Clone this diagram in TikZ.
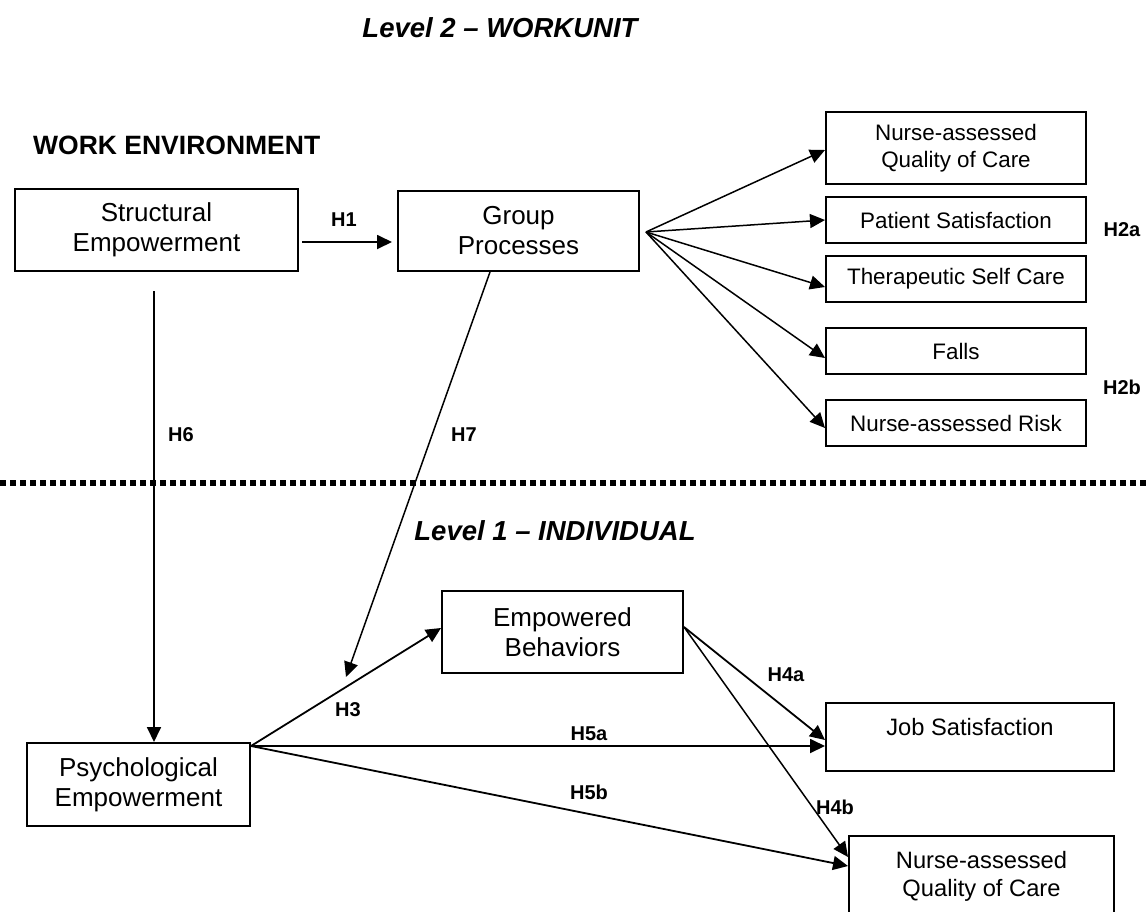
\documentclass[tikz,border=0pt]{standalone}
\usepackage{fontspec}
\setmainfont{Liberation Sans}
\usetikzlibrary{arrows.meta}
\newcommand{\bxAfont}{\fontsize{26}{30}\selectfont}
\newcommand{\bxBfont}{\fontsize{22.4}{27}\selectfont}
\newcommand{\bxCfont}{\fontsize{23.7}{28}\selectfont}
\newcommand{\hfont}{\fontsize{20}{22}\selectfont\bfseries}
\newcommand{\lvfont}{\fontsize{27.5}{30}\selectfont\bfseries\itshape}
\tikzset{
  box/.style={draw, line width=2pt, inner sep=0pt, align=center, font=\bxAfont},
  boxB/.style={box, font=\bxBfont},
  boxC/.style={box, font=\bxCfont},
  arr/.style={-{Triangle[length=15pt,width=14pt]}, line width=1.8pt},
  farr/.style={arr, line width=1.5pt},
  hlab/.style={font=\hfont, inner sep=0pt},
  lvl/.style={font=\lvfont, inner sep=0pt},
}
\begin{document}
\begin{tikzpicture}[x=1pt,y=-1pt]
\useasboundingbox (0,0) rectangle (1146,911);
% titles
\node[lvl] (l2) at (500,28) {Level 2 -- WORKUNIT};
\node[font=\fontsize{26.5}{30}\selectfont\bfseries, inner sep=0pt, anchor=west] (we) at (33,145) {WORK ENVIRONMENT};
\node[lvl] (l1) at (555,531) {Level 1 -- INDIVIDUAL};
% divider
\draw[line width=6pt, dash pattern=on 6pt off 4pt] (0,483) -- (1146,483);
% level 2 boxes
\node[box, minimum width=283pt, minimum height=82pt] (se) at (156.5,230) {Structural\\Empowerment};
\node[box, minimum width=241pt, minimum height=80pt] (gp) at (518.5,231) {Group\\Processes};
\node[boxB, minimum width=260pt, minimum height=72pt] (nqc) at (956,148) {Nurse-assessed\\Quality of Care};
\node[boxB, minimum width=260pt, minimum height=46pt] (ps) at (956,220) {Patient Satisfaction};
\node[boxB, minimum width=260pt, minimum height=46pt] (tsc) at (956,279) {Therapeutic Self Care};
\node[boxB, minimum width=260pt, minimum height=46pt] (fa) at (956,351) {Falls};
\node[boxB, minimum width=260pt, minimum height=46pt] (nr) at (956,423) {Nurse-assessed Risk};
% level 1 boxes
\node[box, minimum width=223pt, minimum height=83pt] (psy) at (138.5,784.5) {Psychological\\Empowerment};
\node[box, minimum width=241pt, minimum height=82pt] (eb) at (562.5,632) {Empowered\\Behaviors};
\node[boxC, minimum width=288pt, minimum height=68pt,
  label={[font=\bxCfont, anchor=center, yshift=-25pt]north:Job Satisfaction}] (js) at (970,737) {};
\node[boxC, minimum width=265pt, minimum height=80pt] (nqc2) at (981.5,876) {Nurse-assessed\\Quality of Care};
% H1
\draw[arr] ([xshift=3pt,yshift=-12pt]se.east) -- ([xshift=-5pt,yshift=-11pt]gp.west);
\node[hlab] (h1) at (344,220) {H1};
% fan
\coordinate (fan) at ([xshift=6pt,yshift=-1pt]gp.east);
\draw[farr] (fan) -- ([yshift=-2pt]nqc.west);
\draw[farr] (fan) -- (ps.west);
\draw[farr] (fan) -- ([yshift=-8pt]tsc.west);
\draw[farr] (fan) -- ([yshift=-7pt]fa.west);
\draw[farr] (fan) -- ([yshift=-5pt]nr.west);
\node[hlab] (h2a) at (1122,230) {H2a};
\node[hlab] (h2b) at (1122,387) {H2b};
% H6
\coordinate (h6s) at ([xshift=-2.5pt,yshift=-19pt]se.south);
\draw[arr] (h6s) -- (h6s |- psy.north);
\node[hlab] (h6) at (181,435) {H6};
% H7
\coordinate (h7s) at ([xshift=-28.5pt]gp.south);
\coordinate (h7e) at (346,677);
\draw[farr] (h7s) -- (h7e);
\node[hlab] (h7) at (464,435) {H7};
% individual level
\coordinate (po) at ([yshift=-4pt]psy.north east);
\draw[arr] (po) -- ([yshift=4pt]eb.west);
\node[hlab] (h3) at (348,710) {H3};
\draw[arr] (po) -- (po -| js.west);
\node[hlab] (h5a) at (589,734) {H5a};
\draw[arr] (po) -- ([yshift=10pt]nqc2.west);
\node[hlab] (h5b) at (589,792) {H5b};
\coordinate (eo) at ([yshift=5pt]eb.east);
\draw[arr] (eo) -- ([yshift=-3pt]js.west);
\node[hlab] (h4a) at (786,675) {H4a};
\draw[farr] (eo) -- ([yshift=19pt]nqc2.west);
\node[hlab] (h4b) at (835,807) {H4b};
\end{tikzpicture}
\end{document}
